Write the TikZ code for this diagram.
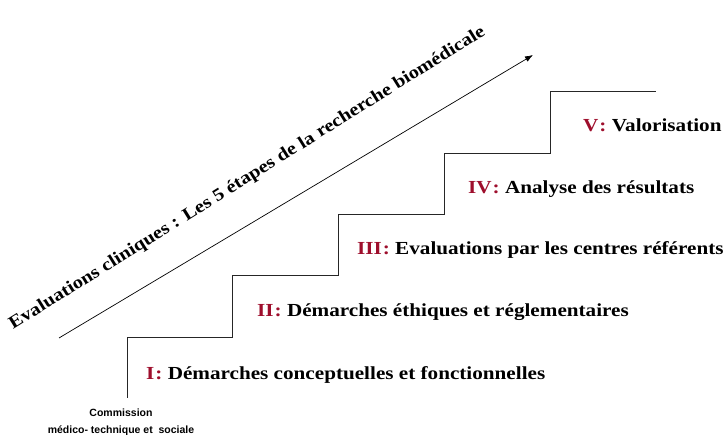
\documentclass[tikz,border=0pt]{standalone}
\usepackage{fontspec}
\setmainfont{Liberation Serif}
\setsansfont{Liberation Sans}
\newfontfamily\garafont[FakeStretch=1.15]{Liberation Serif}
\usetikzlibrary{arrows.meta, positioning}
\definecolor{stepred}{RGB}{158,14,44}

\tikzset{
  steplabel/.style={anchor=west, inner sep=0pt,
    font=\garafont\bfseries\fontsize{18.4}{22}\selectfont},
  stairline/.style={line width=0.9pt, black!85},
  commfont/.style={anchor=base, inner sep=0pt,
    font=\sffamily\bfseries\fontsize{10.5}{12}\selectfont},
}

\begin{document}
\begin{tikzpicture}[x=1pt, y=1pt, >=Latex]
  \useasboundingbox (0,0) rectangle (724,435);

  % escalier
  \draw[stairline] (127,37) -- (127,98)
    \foreach \i in {1,...,4} { -- ++(105.8,0) -- ++(0,61.3) } -- ++(105.8,0);

  % les 5 etapes
  \foreach \num/\txt/\x/\y in {I/Démarches conceptuelles et fonctionnelles/146/60,
      II/Démarches éthiques et réglementaires/257/123,
      III/Evaluations par les centres référents/357/185,
      IV/Analyse des résultats/468/246,
      V/Valorisation/583/310}
    \node[steplabel] (etape\num) at (\x,\y) {\textcolor{stepred}{\num\hspace{1pt}:} \txt};

  % fleche et titre
  \coordinate (debut) at (59,97);
  \coordinate (fin) at (533,380);
  \draw[-{Latex[length=8pt,width=6pt]}, line width=0.7pt] (debut) -- (fin);
  \node[rotate=32, anchor=base west, inner sep=0pt,
    font=\garafont\bfseries\fontsize{17.8}{20}\selectfont] (titre) at (13,105)
    {Evaluations cliniques : Les 5 étapes de la recherche biomédicale};

  % commission
  \node[commfont] (commission) at (121,18) {Commission};
  \node[commfont] (commtype) at (121,1) {médico- technique et~ sociale};
\end{tikzpicture}
\end{document}
